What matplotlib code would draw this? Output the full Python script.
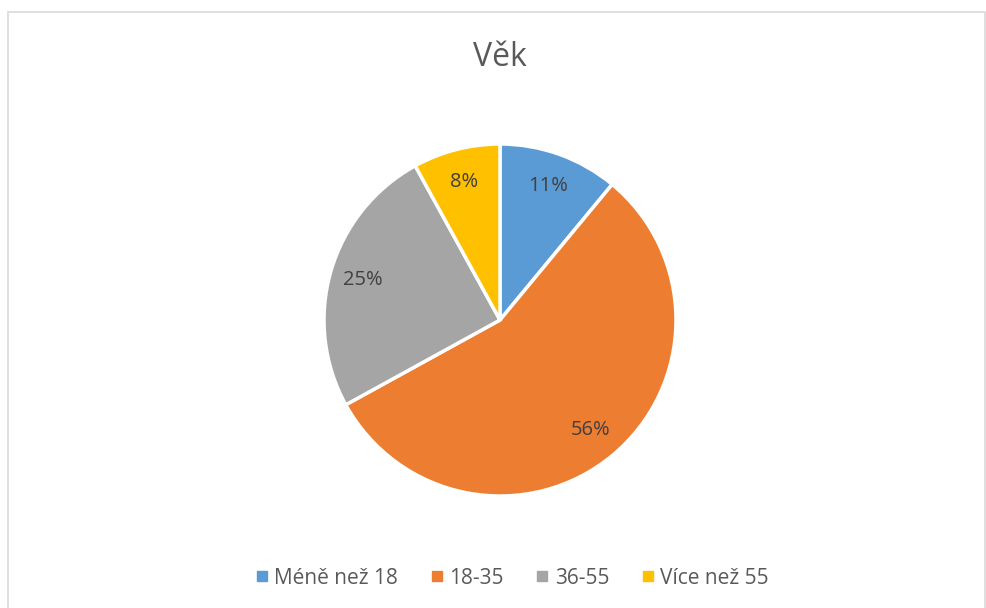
import matplotlib
matplotlib.use('Agg')
import matplotlib.pyplot as plt
from matplotlib.patches import Rectangle
from matplotlib.lines import Line2D

plt.rcParams['font.family'] = ['Open Sans', 'DejaVu Sans']

title = 'Věk'
categories = ['Méně než 18', '18-35', '36-55', 'Více než 55']
values = [11, 56, 25, 8]
colors = ['#5b9bd5', '#ed7d31', '#a5a5a5', '#ffc000']

W, H = 986, 608
fig = plt.figure(figsize=(W / 100, H / 100), dpi=100)

# light grey chart-area frame
fig.patches.append(Rectangle((8 / W, -0.01), (985 - 8) / W, (H - 12) / H + 0.01,
                             transform=fig.transFigure, fill=False,
                             edgecolor='#d9d9d9', linewidth=1.2))

cx, cy, r = 500, 320, 176
ax = fig.add_axes([(cx - r) / W, (H - cy - r) / H, 2 * r / W, 2 * r / H])
wedges, texts, autotexts = ax.pie(values, colors=colors, startangle=90, counterclock=False,
                                  autopct='%1.0f%%', pctdistance=0.81,
                                  wedgeprops=dict(edgecolor='white', linewidth=2.5),
                                  textprops=dict(color='#404040', fontsize=14.5))
ax.set_xlim(-1, 1)
ax.set_ylim(-1, 1)
ax.set_aspect('equal')

fig.text(cx / W, 1 - 57 / H, title, ha='center', va='center', fontsize=23, color='#595959')

handles = [Line2D([], [], marker='s', linestyle='none', markersize=7,
                  markerfacecolor=c, markeredgecolor=c) for c in colors]
fig.legend(handles, categories, loc='center', bbox_to_anchor=(510 / W, 1 - 578 / H),
           ncol=4, frameon=False, fontsize=15, labelcolor='#595959',
           handletextpad=0.1, columnspacing=1.35, handlelength=1.0)

fig.savefig('out.png', dpi=100)
